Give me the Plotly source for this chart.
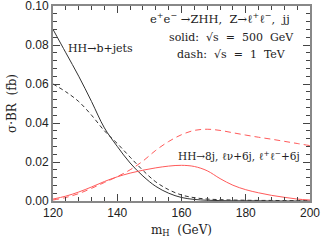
import plotly.graph_objects as go

mh = [120, 124, 128, 132, 136, 140, 144, 148, 152, 156, 160, 164, 168, 172, 176, 180, 184, 188, 192, 196, 200]

bjets_500 = [0.088, 0.076, 0.064, 0.051, 0.0375, 0.028, 0.0195, 0.0128, 0.0075, 0.0040, 0.0018, 0.0008, 0.0004, 0.0002,
             0.0001, 0.0001, 0.0001, 0.0, 0.0, 0.0, 0.0]
bjets_1000 = [0.060, 0.056, 0.051, 0.044, 0.036, 0.0295, 0.0225, 0.0157, 0.0098, 0.0058, 0.0031, 0.0017, 0.0010, 0.0007,
              0.0005, 0.0004, 0.0003, 0.0003, 0.0002, 0.0002, 0.0002]
jets8_500 = [0.0010, 0.0025, 0.0046, 0.0072, 0.0100, 0.0124, 0.0143, 0.0158, 0.0170, 0.0179, 0.0183, 0.0177, 0.0155,
             0.0115, 0.0081, 0.0058, 0.0042, 0.0029, 0.0019, 0.0010, 0.0005]
jets8_1000 = [0.0005, 0.0018, 0.0038, 0.0065, 0.0095, 0.0125, 0.0160, 0.0205, 0.0260, 0.0305, 0.0340, 0.0362, 0.0368,
              0.0362, 0.0350, 0.0338, 0.0327, 0.0317, 0.0306, 0.0295, 0.0284]

x_ticks = [120, 140, 160, 180, 200]
y_ticks = [0.0, 0.02, 0.04, 0.06, 0.08, 0.10]
y_tick_labels = ["0.00", "0.02", "0.04", "0.06", "0.08", "0.10"]

BLACK = "#333333"
RED = "#ff5a5a"

fig = go.Figure()
fig.add_trace(go.Scatter(x=mh, y=bjets_500, mode="lines", line=dict(color=BLACK, width=1, shape="spline")))
fig.add_trace(go.Scatter(x=mh, y=bjets_1000, mode="lines", line=dict(color=BLACK, width=1, dash="4px,3px", shape="spline")))
fig.add_trace(go.Scatter(x=mh, y=jets8_500, mode="lines", line=dict(color=RED, width=1, shape="spline")))
fig.add_trace(go.Scatter(x=mh, y=jets8_1000, mode="lines", line=dict(color=RED, width=1, dash="6px,4px", shape="spline")))

SERIF = "DejaVu Serif, Liberation Serif, serif"
tfont = dict(family=SERIF, size=11, color="#222")
NB = "\u00a0"

fig.add_annotation(x=124.2, y=0.078, xanchor="left", yanchor="middle", showarrow=False,
                   text="HH→b+jets", font=tfont)
fig.add_annotation(x=172.0, y=0.0935, xanchor="center", yanchor="middle", showarrow=False,
                   text="e<sup>+</sup>e<sup>−</sup>" + NB + "→ZHH," + NB + NB + "Z→ℓ<sup>+</sup>ℓ<sup>−</sup>," + NB + NB + "jj",
                   font=dict(family=SERIF, size=11.5, color="#222"))
fig.add_annotation(x=175.5, y=0.0838, xanchor="center", yanchor="middle", showarrow=False,
                   text="solid:" + NB + NB + "√s" + NB + NB + "=" + NB + NB + "500" + NB + NB + "GeV", font=tfont)
fig.add_annotation(x=175.5, y=0.0751, xanchor="center", yanchor="middle", showarrow=False,
                   text="dash:" + NB + NB + "√s" + NB + NB + "=" + NB + NB + "1" + NB + NB + "TeV", font=tfont)
fig.add_annotation(x=178.0, y=0.0233, xanchor="center", yanchor="middle", showarrow=False,
                   text="HH→8j, ℓν+6j, ℓ<sup>+</sup>ℓ<sup>−</sup>+6j", font=dict(family=SERIF, size=10.5, color="#222"))

axis_common = dict(showgrid=False, zeroline=False, showline=True, linecolor="#888", linewidth=2, mirror="ticks",
                   ticks="inside", tickcolor="#444", tickwidth=1, ticklen=7, automargin=False,
                   ticklabeloverflow="allow",
                   tickfont=dict(family="Liberation Sans, Arial, sans-serif", size=12, color="#222"))

fig.update_xaxes(range=[120, 200], tickmode="array", tickvals=x_ticks,
                 minor=dict(ticks="inside", dtick=4, tick0=120, ticklen=4, tickcolor="#444", tickwidth=1),
                 title=dict(text="m<sub>H</sub>  (GeV)", font=dict(family=SERIF, size=12, color="#222"), standoff=6),
                 **axis_common)
fig.update_yaxes(range=[0, 0.1], tickmode="array", tickvals=y_ticks, ticktext=y_tick_labels,
                 minor=dict(ticks="inside", dtick=0.004, tick0=0, ticklen=4, tickcolor="#444", tickwidth=1),
                 title=dict(text="σ·BR  (fb)", font=dict(family=SERIF, size=12, color="#222"), standoff=6),
                 **axis_common)

fig.update_layout(width=322, height=242, margin=dict(l=53, r=12, t=6, b=41),
                  paper_bgcolor="white", plot_bgcolor="white", showlegend=False)

fig.write_html("out.html", config={"displayModeBar": False},
               post_script="document.body.style.margin='0px';document.body.style.padding='0px';")
